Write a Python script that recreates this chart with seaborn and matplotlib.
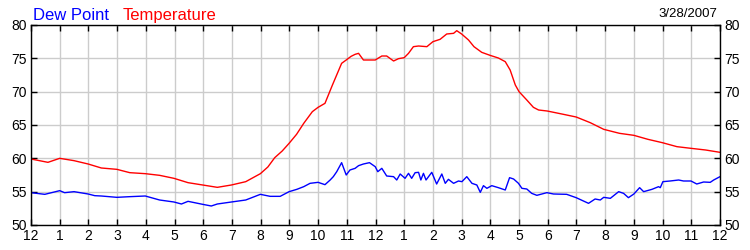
import matplotlib
matplotlib.use("Agg")
import matplotlib.pyplot as plt
import seaborn as sns
import pandas as pd

# ---- data (hours since midnight, degrees F) ----
temp_hours = [0.0, 0.59, 1.0, 1.5, 1.99, 2.45, 2.99, 3.44, 3.98, 4.48, 4.98, 5.47,
              5.98, 6.49, 6.98, 7.48, 7.99, 8.25, 8.49, 8.75, 8.99, 9.25, 9.5, 9.8,
              10.0, 10.24, 10.5, 10.82, 10.98, 11.15, 11.29, 11.41, 11.58, 11.8, 11.99,
              12.22, 12.39, 12.63, 12.8, 13.0, 13.15, 13.32, 13.5, 13.79, 14.0, 14.25,
              14.48, 14.72, 14.83, 15.0, 15.24, 15.43, 15.7, 15.99, 16.28, 16.52, 16.69,
              16.87, 17.0, 17.27, 17.5, 17.68, 17.98, 18.49, 18.99, 19.48, 19.95, 20.5,
              21.0, 21.49, 21.99, 22.5, 22.99, 23.5, 24.0]
temp_values = [59.9, 59.4, 60.0, 59.65, 59.15, 58.55, 58.35, 57.85, 57.7, 57.45, 57.0, 56.35,
               56.0, 55.65, 56.0, 56.5, 57.7, 58.7, 60.1, 61.1, 62.25, 63.6, 65.25, 67.0,
               67.65, 68.25, 71.0, 74.25, 74.75, 75.3, 75.6, 75.75, 74.75, 74.75, 74.75,
               75.35, 75.35, 74.6, 74.95, 75.1, 75.75, 76.75, 76.85, 76.75, 77.5, 77.85,
               78.65, 78.75, 79.15, 78.65, 77.75, 76.75, 75.9, 75.45, 75.05, 74.5, 73.25,
               71.0, 70.0, 68.75, 67.65, 67.25, 67.1, 66.65, 66.2, 65.35, 64.35, 63.75,
               63.45, 62.85, 62.35, 61.75, 61.5, 61.25, 60.9]

dew_hours = [0.0, 0.48, 1.0, 1.17, 1.5, 1.99, 2.22, 2.45, 2.99, 3.44, 3.98, 4.48,
             4.98, 5.24, 5.47, 5.98, 6.28, 6.49, 6.98, 7.48, 7.99, 8.33, 8.68, 8.99,
             9.26, 9.5, 9.72, 10.0, 10.24, 10.42, 10.53, 10.65, 10.82, 10.98, 11.11,
             11.29, 11.41, 11.58, 11.79, 11.99, 12.08, 12.22, 12.39, 12.63, 12.74, 12.86,
             13.03, 13.15, 13.26, 13.38, 13.5, 13.58, 13.67, 13.76, 13.96, 14.13, 14.31,
             14.43, 14.54, 14.72, 14.89, 15.01, 15.18, 15.36, 15.53, 15.65, 15.76, 15.88,
             16.05, 16.28, 16.52, 16.67, 16.81, 16.98, 17.1, 17.27, 17.44, 17.62, 17.97,
             18.2, 18.66, 18.99, 19.42, 19.65, 19.83, 19.95, 20.18, 20.47, 20.64, 20.81,
             21.0, 21.2, 21.34, 21.63, 21.86, 21.92, 22.01, 22.26, 22.56, 22.73, 22.99,
             23.19, 23.43, 23.66, 23.78, 24.0]
dew_values = [54.85, 54.6, 55.15, 54.85, 55.0, 54.65, 54.4, 54.35, 54.15, 54.25, 54.35, 53.75,
              53.45, 53.15, 53.55, 53.1, 52.85, 53.15, 53.45, 53.75, 54.6, 54.3, 54.3, 55.0,
              55.35, 55.75, 56.25, 56.4, 56.05, 56.75, 57.25, 58.0, 59.35, 57.5, 58.25,
              58.5, 58.9, 59.15, 59.35, 58.75, 58.0, 58.5, 57.35, 57.25, 56.75, 57.65,
              57.0, 57.75, 57.0, 57.85, 57.9, 56.75, 57.75, 56.75, 57.9, 56.15, 57.65,
              56.25, 56.85, 56.25, 56.6, 56.5, 57.25, 56.25, 56.0, 54.9, 55.9, 55.5,
              55.9, 55.6, 55.25, 57.1, 56.9, 56.25, 55.5, 55.4, 54.75, 54.45, 54.85,
              54.65, 54.6, 54.1, 53.25, 53.9, 53.75, 54.15, 54.0, 55.0, 54.75, 54.1,
              54.65, 55.6, 55.0, 55.35, 55.75, 55.6, 56.5, 56.6, 56.75, 56.6, 56.6,
              56.15, 56.45, 56.4, 56.75, 57.25]

hour_labels = ["12", "1", "2", "3", "4", "5", "6", "7", "8", "9", "10", "11",
               "12", "1", "2", "3", "4", "5", "6", "7", "8", "9", "10", "11", "12"]
y_ticks = [50, 55, 60, 65, 70, 75, 80]
date_label = "3/28/2007"

sns.set_style("white")
plt.rcParams["font.family"] = ["Liberation Sans", "DejaVu Sans"]

fig = plt.figure(figsize=(7.5, 2.5), dpi=100)
ax = fig.add_axes([31 / 750, 25 / 250, 689 / 750, 200 / 250])

temp_df = pd.DataFrame({"hour": temp_hours, "value": temp_values})
dew_df = pd.DataFrame({"hour": dew_hours, "value": dew_values})
sns.lineplot(data=temp_df, x="hour", y="value", ax=ax, color="#ff0000", lw=1.0, sort=False)
sns.lineplot(data=dew_df, x="hour", y="value", ax=ax, color="#0000ff", lw=1.0, sort=False)

ax.set_xlim(0, 24)
ax.set_ylim(50, 80)
ax.set_xticks(range(25))
ax.set_xticklabels(hour_labels)
ax.set_yticks(y_ticks)
ax.set_yticklabels([str(v) for v in y_ticks])
ax.set_xlabel("")
ax.set_ylabel("")

ax.grid(True, color="#cccccc", lw=1.0)
ax.set_axisbelow(True)
for s in ax.spines.values():
    s.set_visible(True)
    s.set_color("black")
    s.set_linewidth(1.0)

ax.tick_params(axis="both", direction="in", length=4, width=1, color="black",
               labelsize=10, labelcolor="black", pad=3)
ax.tick_params(axis="x", top=True, bottom=True)
ax.tick_params(axis="y", left=True, right=True, labelleft=True, labelright=True)

fig.text(33 / 750, 1 - 20 / 250, "Dew Point", color="#0000ff", fontsize=12, ha="left", va="baseline")
fig.text(123 / 750, 1 - 20 / 250, "Temperature", color="#ff0000", fontsize=12, ha="left", va="baseline")
fig.text(717 / 750, 1 - 17 / 250, date_label, color="black", fontsize=9.5, ha="right", va="baseline")

fig.savefig("out.png", dpi=100)
